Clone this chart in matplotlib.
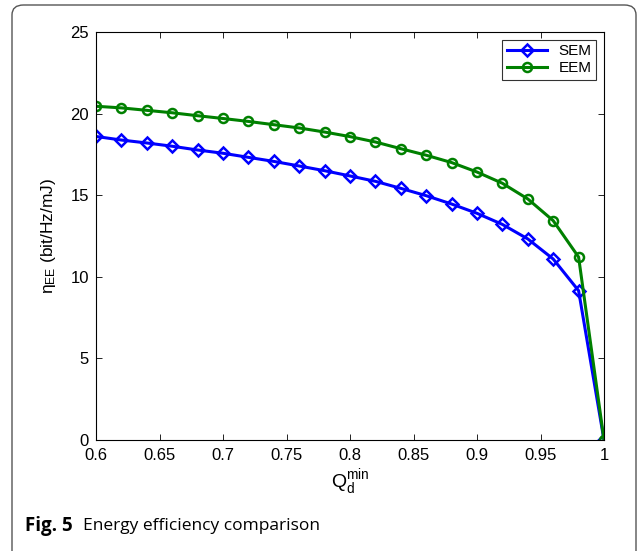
import matplotlib
matplotlib.use("Agg")
import matplotlib.pyplot as plt
from matplotlib.patches import FancyBboxPatch

x = [0.60, 0.62, 0.64, 0.66, 0.68, 0.70, 0.72, 0.74, 0.76, 0.78, 0.80,
     0.82, 0.84, 0.86, 0.88, 0.90, 0.92, 0.94, 0.96, 0.98, 1.00]
sem = [18.6, 18.38, 18.2, 18.0, 17.77, 17.57, 17.32, 17.07, 16.79, 16.5, 16.18,
       15.85, 15.42, 14.97, 14.46, 13.89, 13.21, 12.32, 11.09, 9.15, 0.0]
eem = [20.45, 20.35, 20.2, 20.05, 19.87, 19.7, 19.52, 19.32, 19.12, 18.87, 18.59,
       18.26, 17.85, 17.45, 17.0, 16.42, 15.73, 14.77, 13.44, 11.21, 0.0]
xticks = [0.6, 0.65, 0.7, 0.75, 0.8, 0.85, 0.9, 0.95, 1.0]
xticklabels = ["0.6", "0.65", "0.7", "0.75", "0.8", "0.85", "0.9", "0.95", "1"]
yticks = [0, 5, 10, 15, 20, 25]

plt.rcParams['font.family'] = ['Liberation Sans', 'DejaVu Sans']

W, H = 637, 551
fig = plt.figure(figsize=(W / 100, H / 100), dpi=100)

# outer rounded frame
frame = FancyBboxPatch((12 / W, -20 / H), (636 - 12) / W, (551 - 5 + 20) / H,
                       boxstyle="round,pad=0,rounding_size=0.018",
                       transform=fig.transFigure, fill=False,
                       edgecolor="#555555", linewidth=1.0)
fig.patches.append(frame)

ax = fig.add_axes([96 / W, 1 - 440 / H, (604 - 96) / W, (440 - 32) / H])
ax.plot(x, sem, color=(0, 0, 1), linewidth=2.2, marker="D", markersize=6.5,
        markerfacecolor="none", markeredgewidth=1.8, label="SEM")
ax.plot(x, eem, color=(0, 0.5, 0), linewidth=2.2, marker="o", markersize=6.5,
        markerfacecolor="none", markeredgewidth=1.8, label="EEM")

ax.set_xlim(0.6, 1.0)
ax.set_ylim(0, 25)
ax.set_xticks(xticks)
ax.set_xticklabels(xticklabels)
ax.set_yticks(yticks)
ax.tick_params(direction="in", top=True, right=True, labelsize=12,
               length=4, width=0.6)
ax.tick_params(axis="x", pad=6)
ax.tick_params(axis="y", pad=5)
for s in ax.spines.values():
    s.set_linewidth(0.8)

ax.set_xlabel(r"Q$_\mathregular{d}^\mathregular{min}$", fontsize=14, labelpad=3)
ax.set_ylabel(r"$\mathregular{η_{EE}}$ (bit/Hz/mJ)", fontsize=12.5, labelpad=9)

leg = ax.legend(loc="upper right", fontsize=11, frameon=True, fancybox=False,
                edgecolor="black", borderaxespad=0.5, handlelength=2.6,
                borderpad=0.3, labelspacing=0.2)
leg.get_frame().set_linewidth(0.8)

fig.text(25 / W, 1 - 526 / H, "Fig. 5", fontsize=13.5, fontweight="bold",
         family=["Open Sans", "DejaVu Sans"], va="center", ha="left")
fig.text(83 / W, 1 - 526 / H, "Energy efficiency comparison", fontsize=12.5,
         family=["Open Sans", "DejaVu Sans"], va="center", ha="left")

fig.savefig("out.png", dpi=100)
